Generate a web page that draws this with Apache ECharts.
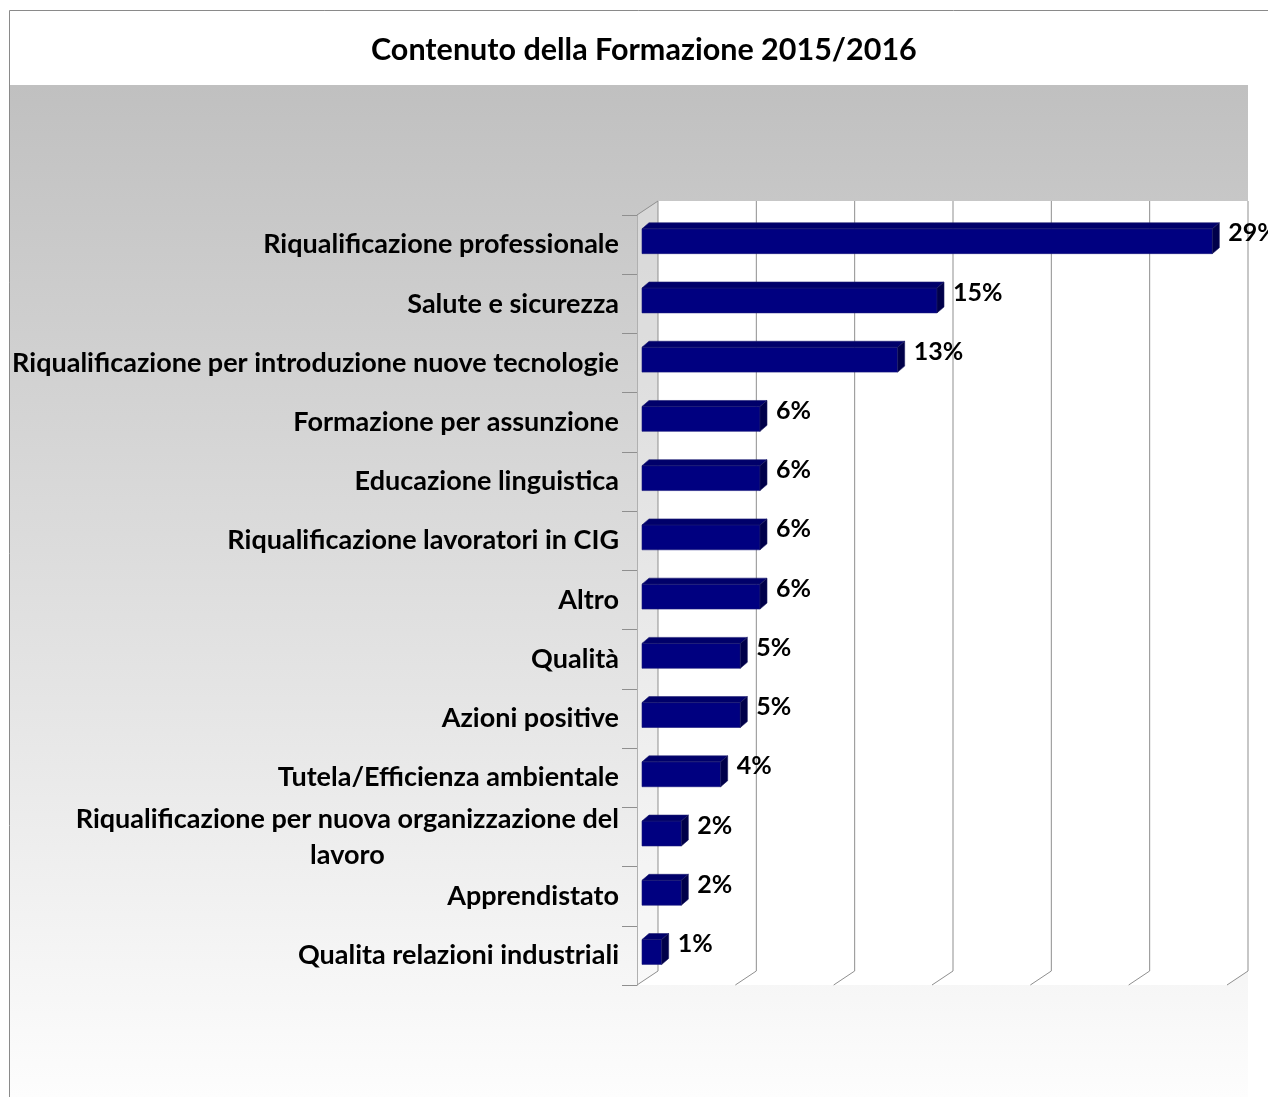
<!DOCTYPE html>
<html>
<head>
<meta charset="utf-8">
<title>Contenuto della Formazione 2015/2016</title>
<script src="https://cdn.jsdelivr.net/npm/echarts@6/dist/echarts.min.js"></script>
<style>
  html, body { margin: 0; padding: 0; background: #ffffff; }
  #chart { width: 1268px; height: 1097px; }
</style>
</head>
<body>
<div id="chart"></div>
<script>
// Training content shares, top to bottom
const categories = [
  'Riqualificazione professionale',
  'Salute e sicurezza',
  'Riqualificazione per introduzione nuove tecnologie',
  'Formazione per assunzione',
  'Educazione linguistica',
  'Riqualificazione lavoratori in CIG',
  'Altro',
  'Qualità',
  'Azioni positive',
  'Tutela/Efficienza ambientale',
  'Riqualificazione per nuova organizzazione del lavoro',
  'Apprendistato',
  'Qualita relazioni industriali'
];
const values = [29, 15, 13, 6, 6, 6, 6, 5, 5, 4, 2, 2, 1];
const gridTicks = [0, 5, 10, 15, 20, 25, 30];

// oblique projection of the box: back wall offset from the front plane
const WALL_DX = 21, WALL_DY = -14;
// bars sit a little behind the front plane and have a small depth of their own
const BAR_DX = 5, BAR_DY = -3.4;
const BAR_DEPTH_X = 7, BAR_DEPTH_Y = -6;
const LINE_COLOR = '#8f8f8f';
const FONT = 'Lato, "Open Sans", sans-serif';

function wrapLabel(text, maxChars) {
  const words = text.split(' ');
  const lines = [];
  let cur = '';
  words.forEach(w => {
    const next = cur ? cur + ' ' + w : w;
    if (next.length > maxChars && cur) { lines.push(cur); cur = w; }
    else cur = next;
  });
  if (cur) lines.push(cur);
  return lines;
}

function renderWalls(params, api) {
  const cs = params.coordSys;
  const x = api.coord([api.value(0), 0])[0];
  const top = cs.y, bottom = cs.y + cs.height;
  const left = cs.x, right = cs.x + cs.width;
  const children = [];
  if (params.dataIndex === 0) {
    // back wall and floor
    children.push({
      type: 'polygon',
      shape: { points: [
        [left + WALL_DX, top + WALL_DY], [right + WALL_DX, top + WALL_DY],
        [right + WALL_DX, bottom + WALL_DY], [right, bottom],
        [left, bottom], [left + WALL_DX, bottom + WALL_DY]
      ] },
      style: { fill: '#ffffff' }
    });
    // side wall, faintly lighter than the panel behind it
    children.push({
      type: 'polygon',
      shape: { points: [
        [left, top], [left + WALL_DX, top + WALL_DY],
        [left + WALL_DX, bottom + WALL_DY], [left, bottom]
      ] },
      style: { fill: 'rgba(255,255,255,0.3)' }
    });
    children.push({
      type: 'polyline',
      shape: { points: [[left, top], [left + WALL_DX, top + WALL_DY]] },
      style: { stroke: LINE_COLOR, lineWidth: 1, fill: null }
    });
  }
  children.push({
    type: 'polyline',
    shape: { points: [
      [x + WALL_DX, top + WALL_DY], [x + WALL_DX, bottom + WALL_DY], [x, bottom]
    ] },
    style: { stroke: LINE_COLOR, lineWidth: 1, fill: null }
  });
  return { type: 'group', children: children };
}

function renderBar(params, api) {
  const v = api.value(0);
  const cat = api.value(1);
  const start = api.coord([0, cat]);
  const end = api.coord([v, cat]);
  const band = api.size([0, 1])[1];
  const h = band * 0.42;
  const x0 = start[0] + BAR_DX, x1 = end[0] + BAR_DX;
  const cy = end[1] + BAR_DY;
  const yt = cy - h / 2, yb = cy + h / 2;
  const dx = BAR_DEPTH_X, dy = BAR_DEPTH_Y;
  return {
    type: 'group',
    children: [
      { type: 'rect', shape: { x: x0, y: yt, width: x1 - x0, height: h },
        style: { fill: '#000080', stroke: '#15157a', lineWidth: 0.6 } },
      { type: 'polygon', shape: { points: [[x0, yt], [x0 + dx, yt + dy], [x1 + dx, yt + dy], [x1, yt]] },
        style: { fill: '#00006a', stroke: '#1c1c72', lineWidth: 0.6 } },
      { type: 'polygon', shape: { points: [[x1, yt], [x1 + dx, yt + dy], [x1 + dx, yb + dy], [x1, yb]] },
        style: { fill: '#00004a', stroke: '#1c1c60', lineWidth: 0.6 } },
      { type: 'text', style: {
          x: x1 + dx + 9, y: cy - 8, text: v + '%',
          font: 'bold 25px ' + FONT, fill: '#000000',
          textAlign: 'left', textVerticalAlign: 'middle'
        } }
    ]
  };
}

const chart = echarts.init(document.getElementById('chart'), null, { renderer: 'canvas' });

chart.setOption({
  animation: false,
  backgroundColor: 'transparent',
  title: {
    text: 'Contenuto della Formazione 2015/2016',
    left: 366,
    top: 30,
    textStyle: { fontFamily: FONT, fontWeight: 'bold', fontSize: 30.5, color: '#000000' }
  },
  graphic: [
    {
      type: 'rect', z: -10,
      shape: { x: 10, y: 85, width: 1238, height: 1012 },
      style: {
        fill: new echarts.graphic.LinearGradient(0, 0, 0, 1, [
          { offset: 0, color: '#c0c0c0' },
          { offset: 1, color: '#fdfdfd' }
        ])
      }
    },
    { type: 'line', z: -5, shape: { x1: 9.5, y1: 10.5, x2: 1268, y2: 10.5 },
      style: { stroke: '#8a8a8a', lineWidth: 1 } },
    { type: 'line', z: -5, shape: { x1: 9.5, y1: 10.5, x2: 9.5, y2: 1097 },
      style: { stroke: '#8a8a8a', lineWidth: 1 } }
  ],
  grid: { left: 637, top: 215, width: 590, height: 770, containLabel: false },
  xAxis: {
    type: 'value', min: 0, max: 30, interval: 5,
    axisLabel: { show: false }, axisLine: { show: false },
    axisTick: { show: false }, splitLine: { show: false }
  },
  yAxis: {
    type: 'category',
    data: categories,
    inverse: true,
    axisLine: { show: true, lineStyle: { color: LINE_COLOR, width: 1 } },
    axisTick: { show: true, length: 15, lineStyle: { color: LINE_COLOR, width: 1 } },
    axisLabel: {
      margin: 18,
      color: '#000000',
      formatter: name => wrapLabel(name, 50).map(l => '{c|' + l + '}').join('\n'),
      rich: {
        c: { align: 'center', fontFamily: FONT, fontWeight: 'bold', fontSize: 27,
             lineHeight: 36, color: '#000000' }
      }
    },
    splitLine: { show: false }
  },
  series: [
    {
      type: 'custom',
      name: 'walls',
      z: 1,
      silent: true,
      renderItem: renderWalls,
      data: gridTicks.map(t => [t, 0]),
      encode: { x: 0, y: 1 }
    },
    {
      type: 'custom',
      name: 'Contenuto',
      z: 3,
      renderItem: renderBar,
      data: values.map((v, i) => [v, i]),
      encode: { x: 0, y: 1 }
    }
  ]
});
</script>
</body>
</html>
